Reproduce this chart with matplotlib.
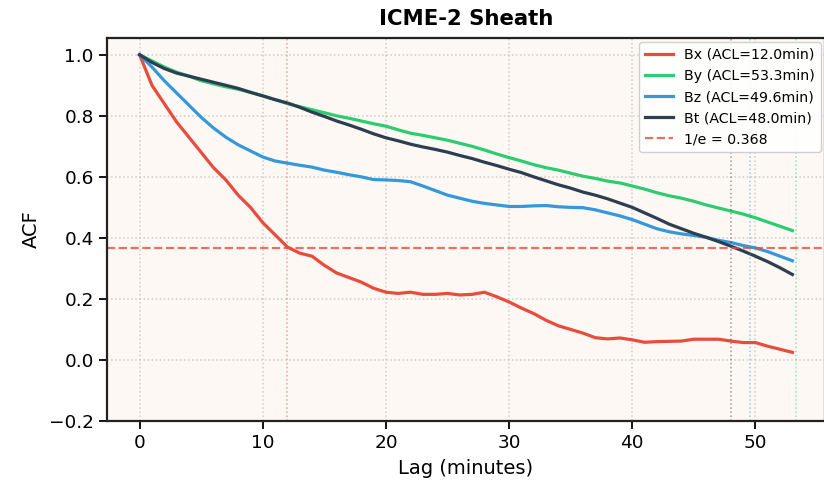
import numpy as np
import matplotlib
matplotlib.use("Agg")
import matplotlib.pyplot as plt

lags = list(range(54))
bx = [1.00, 0.90, 0.84, 0.78, 0.73, 0.68, 0.63, 0.59, 0.54, 0.50,
      0.45, 0.41, 0.37, 0.35, 0.34, 0.31, 0.285, 0.27, 0.255, 0.235,
      0.222, 0.218, 0.222, 0.215, 0.215, 0.218, 0.213, 0.215, 0.222, 0.207,
      0.19, 0.17, 0.152, 0.13, 0.112, 0.10, 0.088, 0.073, 0.069, 0.072,
      0.066, 0.058, 0.06, 0.061, 0.062, 0.068, 0.068, 0.068, 0.062, 0.057,
      0.057, 0.045, 0.035, 0.025]
by = [1.00, 0.98, 0.96, 0.943, 0.93, 0.915, 0.905, 0.895, 0.887, 0.877,
      0.866, 0.853, 0.84, 0.83, 0.82, 0.81, 0.80, 0.792, 0.783, 0.774,
      0.766, 0.754, 0.743, 0.736, 0.728, 0.72, 0.71, 0.70, 0.688, 0.675,
      0.663, 0.652, 0.64, 0.63, 0.622, 0.612, 0.602, 0.595, 0.586, 0.58,
      0.57, 0.56, 0.548, 0.538, 0.53, 0.52, 0.508, 0.498, 0.488, 0.478,
      0.466, 0.452, 0.438, 0.424]
bz = [1.00, 0.96, 0.915, 0.875, 0.835, 0.795, 0.76, 0.73, 0.705, 0.685,
      0.665, 0.652, 0.645, 0.638, 0.632, 0.622, 0.615, 0.607, 0.60, 0.591,
      0.59, 0.588, 0.584, 0.57, 0.555, 0.54, 0.53, 0.52, 0.513, 0.508,
      0.503, 0.503, 0.505, 0.506, 0.502, 0.50, 0.499, 0.492, 0.482, 0.472,
      0.46, 0.445, 0.43, 0.42, 0.413, 0.408, 0.402, 0.392, 0.385, 0.375,
      0.367, 0.355, 0.34, 0.325]
bt = [1.00, 0.975, 0.955, 0.94, 0.93, 0.92, 0.91, 0.90, 0.89, 0.877,
      0.865, 0.853, 0.842, 0.828, 0.812, 0.798, 0.783, 0.77, 0.756, 0.741,
      0.728, 0.718, 0.707, 0.698, 0.69, 0.681, 0.67, 0.66, 0.648, 0.637,
      0.625, 0.614, 0.6, 0.587, 0.574, 0.563, 0.55, 0.54, 0.528, 0.514,
      0.5, 0.482, 0.464, 0.445, 0.43, 0.415, 0.402, 0.388, 0.373, 0.357,
      0.34, 0.322, 0.302, 0.28]

names = ["Bx", "By", "Bz", "Bt"]
acls = [12.0, 53.3, 49.6, 48.0]
colors = ["#e74c3c", "#2ecc71", "#3498db", "#2c3e50"]
series = [bx, by, bz, bt]
threshold = 1 / np.e

fig = plt.figure(figsize=(8.24, 4.86), dpi=100)
ax = fig.add_axes([107/824, 65/486, 718/824, 383/486])
ax.set_facecolor("#fdf8f4")

for name, acl, c, s in zip(names, acls, colors, series):
    ax.plot(lags, s, color=c, lw=2.3, label=f"{name} (ACL={acl:.1f}min)")
for acl, c in zip(acls, colors):
    ax.axvline(acl, color=c, ls=":", lw=1.1, alpha=0.5)
ax.axhline(threshold, color="#e74c3c", ls="--", lw=1.6, alpha=0.8,
           label=f"1/e = {threshold:.3f}")

ax.set_xlim(-2.65, 55.65)
ax.set_ylim(-0.2, 1.055)
ax.set_yticks([-0.2, 0.0, 0.2, 0.4, 0.6, 0.8, 1.0])
ax.set_xticks([0, 10, 20, 30, 40, 50])
ax.grid(True, ls=":", color="#bbbbbb", alpha=0.7, lw=1.1)
ax.tick_params(labelsize=13.3, length=6, width=1.3)
ax.set_xlabel("Lag (minutes)", fontsize=14, labelpad=5)
ax.set_ylabel("ACF", fontsize=14, labelpad=6)
ax.set_title("ICME-2 Sheath", fontsize=15.3, fontweight="bold", pad=9.5)
for sp in ax.spines.values():
    sp.set_linewidth(1.6)
    sp.set_color("#222222")
ax.legend(loc="upper right", fontsize=10.2, framealpha=0.9, borderaxespad=0.3)

fig.savefig("out.png", dpi=100)
